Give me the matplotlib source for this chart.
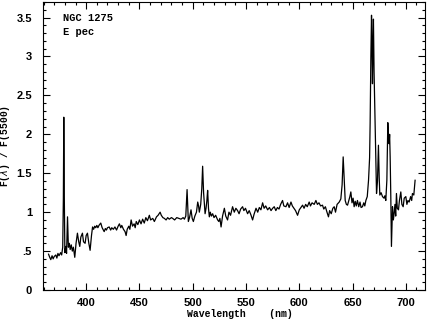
import matplotlib
matplotlib.use("Agg")
import matplotlib.pyplot as plt
from matplotlib.ticker import MultipleLocator, FixedLocator, FixedFormatter

# spectrum (wavelength in nm, flux normalised at 5500 A)
wavelength = [
    364.7, 365.8, 366.8, 368, 369, 370, 371.5, 372.5, 373.5, 374.5, 376, 377, 378,
    378.6, 379, 379.5, 380, 380.9, 381.6, 382.5, 383.3, 384.2, 385, 386, 387, 388,
    389.3, 390.5, 391.8, 393, 394, 395, 396.5, 397.5, 399, 400, 401.2, 402.5, 403.7,
    405, 406, 407, 408, 409, 410, 411, 412, 413.7, 415, 416.9, 418, 419, 420, 421.6,
    423, 424, 425.5, 427, 428.5, 430, 431.2, 432.5, 433.4, 435, 436.5, 437.5, 438.5,
    440, 441, 442.2, 443.5, 445, 446, 447, 448.5, 450, 451.5, 453, 454.5, 456, 457.5,
    459.3, 460.5, 462.5, 464, 466, 467.5, 469.4, 470.5, 472, 473.4, 475, 476.5, 478,
    480, 481.2, 483, 485, 487, 489, 491, 492.2, 493.5, 494.7, 495.9, 497, 498.4,
    499.5, 500.6, 502, 503.5, 504.7, 505.5, 506.2, 507.5, 508.5, 509.3, 510.2, 511.6,
    512.5, 513.3, 514, 514.8, 515.6, 516.5, 517.5, 518.7, 520, 521.5, 523.4, 524.5,
    525.5, 526.6, 528, 529.7, 531, 532.7, 534, 535.5, 537.4, 539, 540.5, 542.1, 543.5,
    545, 546.8, 548, 549.5, 551.5, 553, 554.5, 556.2, 557.5, 559.4, 561, 562.5, 564,
    565.6, 567, 568.5, 570.3, 572, 573.5, 575, 576.5, 578, 579.5, 581, 582.5, 584.3,
    585.5, 587.5, 589, 590.5, 592.2, 593.5, 595, 596.5, 598.4, 600, 601.5, 603.1,
    604.5, 606, 607.5, 609.3, 610.5, 612, 614, 615.6, 617, 618.5, 620, 621.8, 623,
    624.5, 626, 627.4, 628.5, 630, 631.5, 632.8, 634, 635.5, 637.5, 639, 640.2, 641.2,
    642.2, 643.1, 644.2, 645.3, 646.5, 647.5, 648.4, 649.5, 650.5, 651.5, 652.5,
    653.5, 654.6, 655.8, 657, 658, 659.3, 660.5, 661.5, 662.5, 663.8, 665, 666,
    666.5, 667.2, 667.8, 668.3, 668.7, 669.2, 669.6, 670.2, 671.2, 671.8, 672.5,
    673.4, 674.3, 675, 675.6, 676.8, 678.1, 679.5, 680.3, 681.2, 682.2, 683.1, 683.7,
    684.3, 684.8, 685.3, 685.9, 686.5, 687.5, 688.3, 689, 689.8, 690.5, 691.2, 692,
    693.1, 694, 695.3, 696.3, 697.5, 698.5, 700, 701, 702, 703.1, 704.5, 705.5,
    706.2, 707.5, 708.7,
]
flux = [
    0.46, 0.42, 0.39, 0.44, 0.40, 0.43, 0.45, 0.41, 0.47, 0.44, 0.48, 0.45, 0.55,
    1.18, 2.22, 1.18, 0.48, 0.56, 0.47, 0.94, 0.55, 0.60, 0.52, 0.58, 0.50, 0.55,
    0.42, 0.60, 0.73, 0.62, 0.56, 0.68, 0.73, 0.62, 0.60, 0.70, 0.73, 0.60, 0.51,
    0.70, 0.81, 0.78, 0.82, 0.80, 0.83, 0.80, 0.83, 0.86, 0.80, 0.75, 0.79, 0.77, 0.80, 0.81,
    0.77, 0.80, 0.78, 0.81, 0.77, 0.82, 0.85, 0.80, 0.83, 0.78, 0.75, 0.70, 0.78,
    0.82, 0.78, 0.90, 0.82, 0.85, 0.80, 0.88, 0.84, 0.90, 0.85, 0.91, 0.86, 0.93, 0.89,
    0.96, 0.90, 0.92, 0.88, 0.94, 0.96, 1.00, 0.96, 0.93, 0.92, 0.90, 0.93, 0.91,
    0.93, 0.92, 0.90, 0.93, 0.92, 0.91, 0.93, 0.91, 0.95, 1.29, 0.88, 0.93, 1.03,
    0.92, 0.88, 0.95, 1.00, 1.13, 1.08, 1.00, 1.10, 1.30, 1.59, 1.25, 0.98,
    1.05, 1.15, 1.28, 1.05, 0.94, 1.00, 0.95, 0.98, 0.93, 0.96, 0.90, 0.88,
    0.92, 0.81, 0.95, 1.05, 0.95, 0.90, 1.00, 0.96, 1.07, 1.00, 1.05, 1.02, 0.98,
    1.04, 1.07, 1.02, 1.05, 0.98, 1.02, 0.97, 0.90, 0.97, 1.05, 1.00, 1.06, 1.03,
    1.12, 1.05, 1.08, 1.03, 1.06, 1.02, 1.05, 1.07, 1.02, 1.06, 1.04, 1.10, 1.15,
    1.08, 1.07, 1.12, 1.06, 1.13, 1.08, 1.05, 1.02, 0.96, 1.03, 1.06, 1.09,
    1.05, 1.10, 1.07, 1.13, 1.08, 1.12, 1.10, 1.15, 1.10, 1.12, 1.08, 1.09, 1.04,
    1.07, 1.00, 0.94, 1.02, 0.98, 1.05, 1.07, 1.00, 1.10, 1.13, 1.17, 1.35, 1.71,
    1.40, 1.15, 1.10, 1.09, 1.15, 1.20, 1.26, 1.12, 1.18, 1.07, 1.14,
    1.08, 1.15, 1.07, 1.13, 1.06, 1.07, 1.12, 1.08, 1.15, 1.20, 1.41, 1.70,
    2.14, 3.00, 3.53, 3.10, 2.65, 3.20, 3.48, 2.80, 2.09, 1.60, 1.24,
    1.40, 1.86, 1.45, 1.22, 1.25, 1.20, 1.18, 1.21, 1.15, 1.41, 2.15, 1.95,
    1.88, 2.00, 1.71, 1.20, 0.56, 1.07, 0.90, 0.98, 1.10, 0.95, 1.24, 1.05,
    1.03, 1.15, 1.26, 1.10, 1.07, 1.18, 1.20, 1.10, 1.15, 1.13, 1.20, 1.15,
    1.24, 1.22, 1.41,
]

x_ticks = [400, 450, 500, 550, 600, 650, 700]
y_ticks = [0, 0.5, 1, 1.5, 2, 2.5, 3, 3.5]
y_tick_labels = ["0", ".5", "1", "1.5", "2", "2.5", "3", "3.5"]

fig = plt.figure(figsize=(4.28, 3.19), dpi=100)
ax = fig.add_axes([0.1005, 0.0909, 0.8925, 0.9028])

ax.plot(wavelength, flux, color="black", lw=0.9)

ax.set_xlim(359.5, 718)
ax.set_ylim(0, 3.7)

ax.xaxis.set_major_locator(FixedLocator(x_ticks))
ax.xaxis.set_minor_locator(MultipleLocator(10))
ax.yaxis.set_major_locator(FixedLocator(y_ticks))
ax.yaxis.set_major_formatter(FixedFormatter(y_tick_labels))
ax.yaxis.set_minor_locator(MultipleLocator(0.1))

ax.tick_params(which="both", direction="in", top=True, right=True, width=0.8)
ax.tick_params(which="major", length=5)
ax.tick_params(axis="x", which="major", pad=6)
ax.tick_params(axis="y", which="major", pad=8)
ax.tick_params(which="minor", length=2.5)
for lab in ax.get_xticklabels() + ax.get_yticklabels():
    lab.set_fontfamily("Liberation Sans")
    lab.set_fontweight("bold")
    lab.set_fontsize(8)

for sp in ax.spines.values():
    sp.set_linewidth(0.8)

mono = dict(family="Liberation Mono", weight="bold")
ax.set_xlabel("Wavelength    (nm)", fontsize=7, **mono)
ax.set_ylabel(r"F($\lambda$) / F(5500)", fontsize=7, **mono)
ax.xaxis.set_label_coords(0.515, -0.066)
ax.yaxis.set_label_coords(-0.08, 0.5)

ax.text(0.052, 0.945, "NGC 1275", transform=ax.transAxes, fontsize=7.5,
        va="center", **mono)
ax.text(0.052, 0.895, "E pec", transform=ax.transAxes, fontsize=7.5,
        va="center", **mono)

fig.savefig("out.png", dpi=100)
